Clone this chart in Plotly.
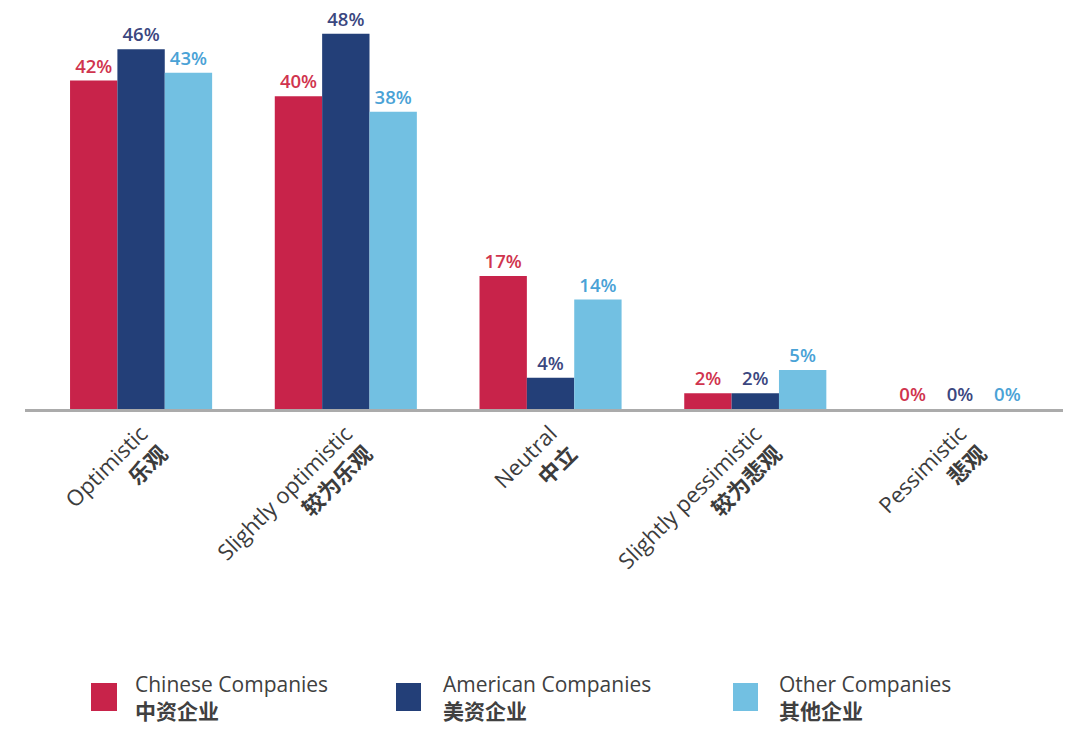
import plotly.graph_objects as go

# Survey categories (English / Chinese)
categories_en = ["Optimistic", "Slightly optimistic", "Neutral", "Slightly pessimistic", "Pessimistic"]
categories_zh = ["乐观", "较为乐观", "中立", "较为悲观", "悲观"]

# Share of respondents in each group (%)
chinese_companies = [42, 40, 17, 2, 0]
american_companies = [46, 48, 4, 2, 0]
other_companies = [43, 38, 14, 5, 0]

series_names_en = ["Chinese Companies", "American Companies", "Other Companies"]
series_names_zh = ["中资企业", "美资企业", "其他企业"]

bar_colors = ["#c8234a", "#233f78", "#72c0e2"]
label_colors = ["#d0344e", "#3b477f", "#4aa2d6"]

FONT = "Open Sans, Noto Sans CJK SC, sans-serif"

tick_text = [f"{en}<br><b>{zh}</b>" for en, zh in zip(categories_en, categories_zh)]

fig = go.Figure()
for name, vals, bc, lc in zip(series_names_en,
                              [chinese_companies, american_companies, other_companies],
                              bar_colors, label_colors):
    fig.add_trace(go.Bar(
        name=name,
        x=categories_en,
        y=vals,
        marker=dict(color=bc, line=dict(width=0)),
        text=[f"{v}%" for v in vals],
        textposition="outside",
        cliponaxis=False,
        textfont=dict(family=FONT, size=18.5, color=lc, weight=600),
        showlegend=False,
    ))

# Legend drawn below the axis: swatch + two-line caption per group
legend_boxes = [(91, 117), (396, 421), (733, 758)]
legend_text_x = [133, 441, 777]
PLOT_L, PLOT_R, PLOT_T, PLOT_B = 25, 1063, 9, 409
pw, ph = PLOT_R - PLOT_L, PLOT_B - PLOT_T


def px_x(x):
    return (x - PLOT_L) / pw


def px_y(y):
    return (PLOT_B - y) / ph


for (x0, x1), tx, col, en, zh in zip(legend_boxes, legend_text_x, bar_colors,
                                       series_names_en, series_names_zh):
    fig.add_shape(type="rect", xref="paper", yref="paper",
                  x0=px_x(x0), x1=px_x(x1), y0=px_y(711), y1=px_y(683),
                  fillcolor=col, line=dict(width=0))
    fig.add_annotation(xref="paper", yref="paper", x=px_x(tx), y=px_y(697),
                       xanchor="left", yanchor="middle", align="left",
                       showarrow=False,
                       text=f"{en}<br><b>{zh}</b>",
                       font=dict(family=FONT, size=21, color="#404040"))

fig.update_layout(
    width=1071, height=730,
    margin=dict(l=PLOT_L, r=1071 - PLOT_R, t=PLOT_T, b=730 - PLOT_B),
    paper_bgcolor="white", plot_bgcolor="white",
    barmode="group", bargap=0.306, bargroupgap=0,
    font=dict(family=FONT, color="#404040"),
    xaxis=dict(
        type="category",
        range=[-0.567, 4.503],
        tickmode="array", tickvals=categories_en, ticktext=tick_text,
        tickangle=-45,
        tickfont=dict(family=FONT, size=22, color="#3c3c3c"),
        showline=True, linecolor="#ababab", linewidth=3,
        ticks="", showgrid=False,
    ),
    yaxis=dict(range=[0, 51.15], visible=False, showgrid=False, zeroline=False),
)

fig.write_html("out.html")
